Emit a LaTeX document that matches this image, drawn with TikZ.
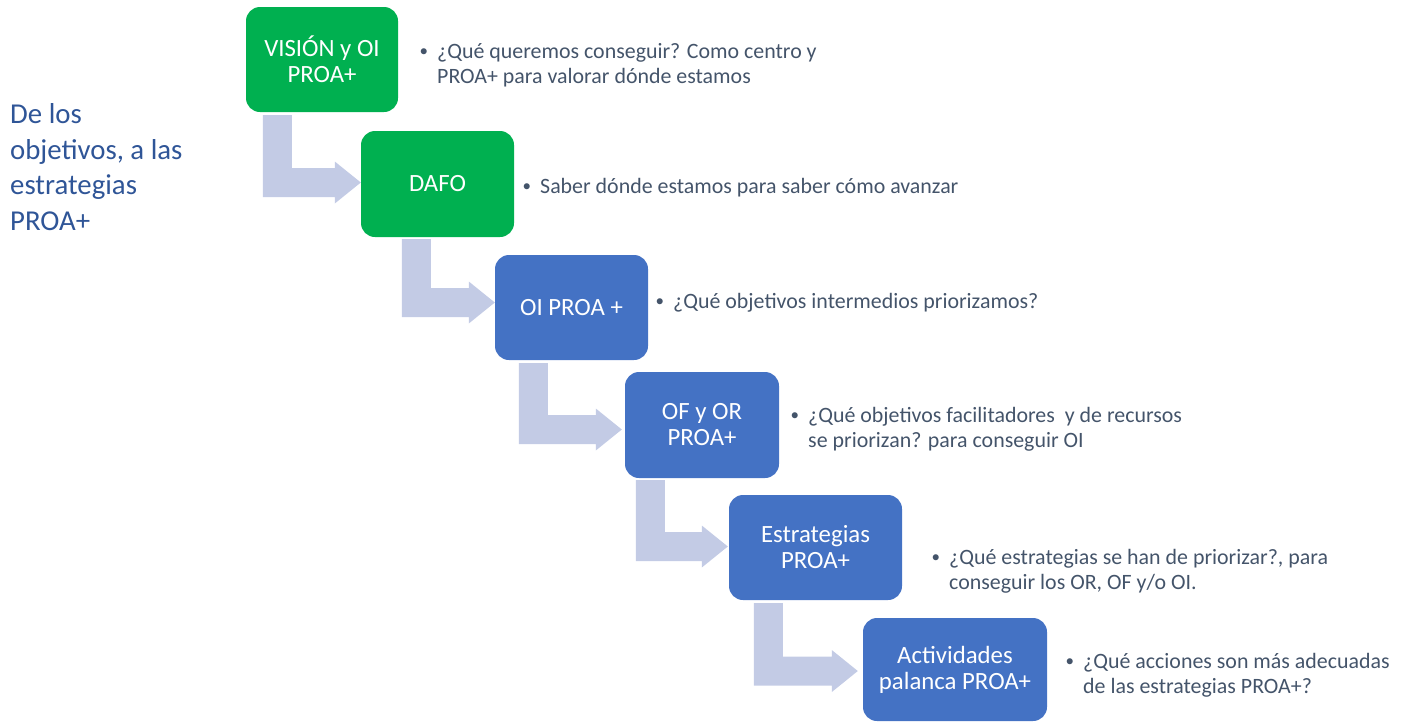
\documentclass[tikz,border=0pt]{standalone}
\usepackage{fontspec}
\setmainfont{Carlito}
\usetikzlibrary{calc}
\definecolor{boxgreen}{HTML}{00B050}
\definecolor{boxblue}{HTML}{4472C4}
\definecolor{arrowc}{HTML}{C3CBE5}
\definecolor{bodytext}{HTML}{44546A}
\definecolor{titletext}{HTML}{2F5597}
\tikzset{
  pbox/.style={rectangle, rounded corners=14pt, inner sep=0pt, text=white, align=center,
    font=\fontsize{24.8}{26}\selectfont},
  greenbox/.style={pbox, fill=boxgreen},
  bluebox/.style={pbox, fill=boxblue},
  bul/.style={anchor=base west, inner sep=0pt, align=left, text=bodytext,
    font=\fontsize{21.9}{25}\selectfont},
  titlenode/.style={anchor=base west, inner sep=0pt, align=left, text=titletext,
    font=\fontsize{28.8}{35.5}\selectfont},
  arrowfill/.style={fill=arrowc}
}
\newcommand\bendarrow[2]{\fill[arrowfill] let \p1=(#1), \p2=(#2) in
  (\x1,\y1) -- (\x1+29pt,\y1) -- (\x1+29pt,\y2+14.5pt) -- (\x2-26pt,\y2+14.5pt)
  -- (\x2-26pt,\y2+21pt) -- (\x2,\y2) -- (\x2-26pt,\y2-21pt) -- (\x2-26pt,\y2-14.5pt)
  -- (\x1,\y2-14.5pt) -- cycle;}
\newcommand\bul{\llap{\raisebox{1.6pt}{\fontsize{17}{17}\selectfont\textbullet}\hspace{9pt}}}
\begin{document}
\begin{tikzpicture}[x=1pt,y=-1pt]
\useasboundingbox (0,0) rectangle (1408,721);
% boxes
\node[greenbox, minimum width=152pt, minimum height=105pt] (b1) at (322,59.5) {VISIÓN y OI\\PROA+};
\node[greenbox, minimum width=153pt, minimum height=106pt] (b2) at (437.5,184) {DAFO};
\node[bluebox, minimum width=153pt, minimum height=105pt] (b3) at (571.5,307.5) {OI PROA +};
\node[bluebox, minimum width=154pt, minimum height=106pt] (b4) at (702,425) {OF y OR\\PROA+};
\node[bluebox, minimum width=173pt, minimum height=105pt] (b5) at (815.5,547.5) {Estrategias\\PROA+};
\node[bluebox, minimum width=184pt, minimum height=103pt] (b6) at (955,669.5) {Actividades\\palanca PROA+};
% arrow anchors
\coordinate (s1) at ($(b1.south west)+(17,3)$);
\coordinate (e1) at ($(b2.west)+(0,-1.5)$);
\coordinate (s2) at ($(b2.south west)+(41,2)$);
\coordinate (e2) at ($(b3.west)+(0,-5)$);
\coordinate (s3) at ($(b3.south west)+(24,3)$);
\coordinate (e3) at ($(b4.west)+(-3,4.5)$);
\coordinate (s4) at ($(b4.south west)+(11,2)$);
\coordinate (e4) at ($(b5.west)+(-1,-1)$);
\coordinate (s5) at ($(b5.south west)+(25,3)$);
\coordinate (e5) at ($(b6.west)+(-5,1.5)$);
\bendarrow{s1}{e1}
\bendarrow{s2}{e2}
\bendarrow{s3}{e3}
\bendarrow{s4}{e4}
\bendarrow{s5}{e5}
% title (anchor = baseline of last line)
\node[titlenode] (title) at (10,230) {De los\\objetivos, a las\\estrategias\\PROA+};
% bullet texts (anchor = baseline of last line)
\node[bul] (t1) at (437,83) {\bul ¿Qué queremos conseguir? Como centro y\\PROA+ para valorar dónde estamos};
\node[bul] (t2) at (540,193) {\bul Saber dónde estamos para saber cómo avanzar};
\node[bul] (t3) at (673,308) {\bul ¿Qué objetivos intermedios priorizamos?};
\node[bul] (t4) at (808,447) {\bul ¿Qué objetivos facilitadores \ y de recursos\\se priorizan? para conseguir OI};
\node[bul] (t5) at (949,589) {\bul ¿Qué estrategias se han de priorizar?, para\\conseguir los OR, OF y/o OI.};
\node[bul] (t6) at (1083,693) {\bul ¿Qué acciones son más adecuadas\\de las estrategias PROA+?};
\end{tikzpicture}
\end{document}
